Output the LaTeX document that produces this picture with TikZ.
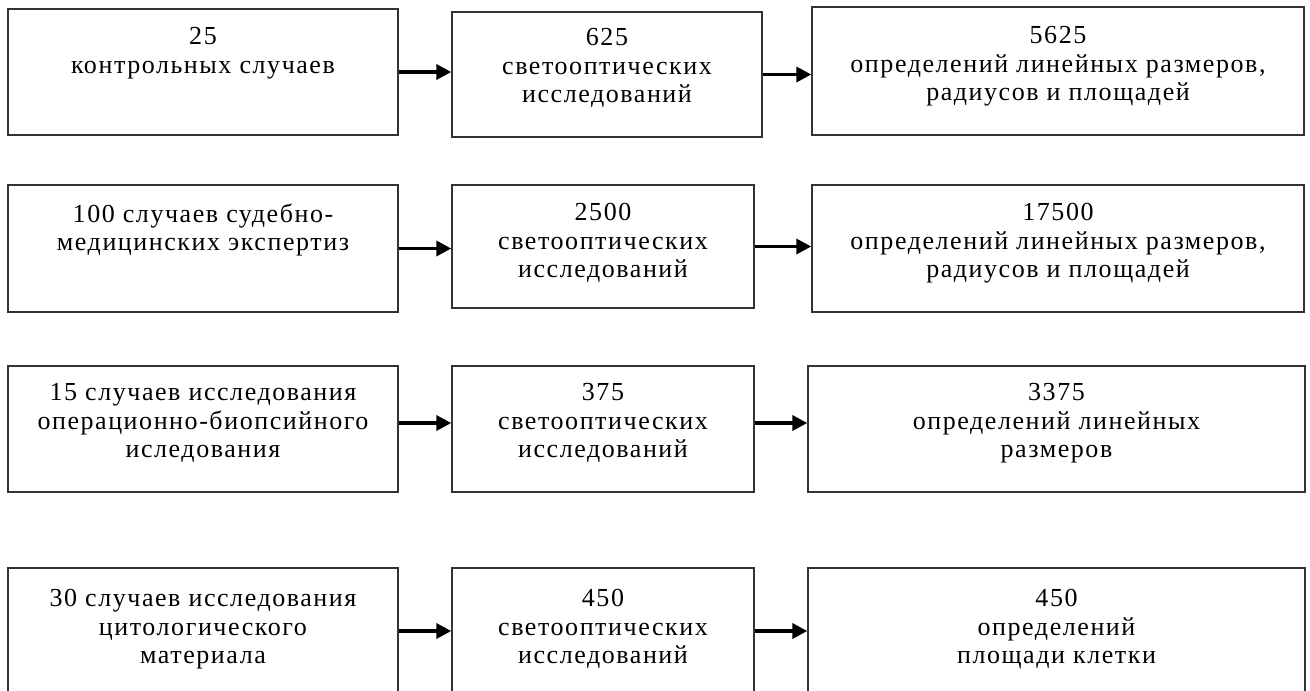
\documentclass[tikz,border=0pt]{standalone}
\usepackage{fontspec}
\setmainfont{Liberation Serif}[LetterSpace=6]
\usetikzlibrary{arrows.meta}
\begin{document}
\begin{tikzpicture}[x=1pt,y=-1pt,
    box/.style={draw=black!80,line width=1.4pt,inner sep=0pt},
    txt/.style={anchor=north,align=center,inner sep=0pt,font=\fontsize{26}{28.5}\selectfont,execute at begin node=\strut},
    arr/.style={-{Triangle[length=15pt,width=15pt]},line width=3.5pt}]
        \useasboundingbox (0,0) rectangle (1310,691);
        \clip (0,0) rectangle (1310,691);
        \node[box,minimum width=390,minimum height=126] (a1) at (203,72) {};
        \node[box,minimum width=310,minimum height=125] (b1) at (607,74.5) {};
        \node[box,minimum width=492,minimum height=128] (c1) at (1058,71) {};
        \node[box,minimum width=390,minimum height=127] (a2) at (203,248.5) {};
        \node[box,minimum width=302,minimum height=123] (b2) at (603,246.5) {};
        \node[box,minimum width=492,minimum height=127] (c2) at (1058,248.5) {};
        \node[box,minimum width=390,minimum height=126] (a3) at (203,429) {};
        \node[box,minimum width=302,minimum height=126] (b3) at (603,429) {};
        \node[box,minimum width=497,minimum height=126] (c3) at (1056.5,429) {};
        \node[box,minimum width=390,minimum height=126] (a4) at (203,631) {};
        \node[box,minimum width=302,minimum height=126] (b4) at (603,631) {};
        \node[box,minimum width=497,minimum height=126] (c4) at (1056.5,631) {};
        \node[txt] (a1t) at ([yshift=-19pt]a1.north) {25\\контрольных случаев};
        \node[txt] (b1t) at ([yshift=-17pt]b1.north) {625\\светооптических\\исследований};
        \node[txt] (c1t) at ([yshift=-20pt]c1.north) {5625\\определений линейных размеров,\\радиусов и площадей};
        \node[txt] (a2t) at ([yshift=-19pt]a2.north) {100 случаев судебно-\\медицинских экспертиз};
        \node[txt] (b2t) at ([yshift=-19pt]b2.north) {2500\\светооптических\\исследований};
        \node[txt] (c2t) at ([yshift=-19pt]c2.north) {17500\\определений линейных размеров,\\радиусов и площадей};
        \node[txt] (a3t) at ([yshift=-18pt]a3.north) {15 случаев исследования\\операционно-биопсийного\\иследования};
        \node[txt] (b3t) at ([yshift=-18pt]b3.north) {375\\светооптических\\исследований};
        \node[txt] (c3t) at ([yshift=-18pt]c3.north) {3375\\определений линейных\\размеров};
        \node[txt] (a4t) at ([yshift=-22pt]a4.north) {30 случаев исследования\\цитологического\\материала};
        \node[txt] (b4t) at ([yshift=-22pt]b4.north) {450\\светооптических\\исследований};
        \node[txt] (c4t) at ([yshift=-22pt]c4.north) {450\\определений\\площади клетки};
        \draw[arr] (a1.east) -- (a1.east -| b1.west);
        \draw[arr] (b1.east) -- (b1.east -| c1.west);
        \draw[arr] (a2.east) -- (a2.east -| b2.west);
        \draw[arr] (b2.east) -- (b2.east -| c2.west);
        \draw[arr] ([yshift=6pt]a3.east) -- ([yshift=6pt]a3.east -| b3.west);
        \draw[arr] ([yshift=6pt]b3.east) -- ([yshift=6pt]b3.east -| c3.west);
        \draw[arr] (a4.east) -- (a4.east -| b4.west);
        \draw[arr] (b4.east) -- (b4.east -| c4.west);
\end{tikzpicture}
\end{document}
